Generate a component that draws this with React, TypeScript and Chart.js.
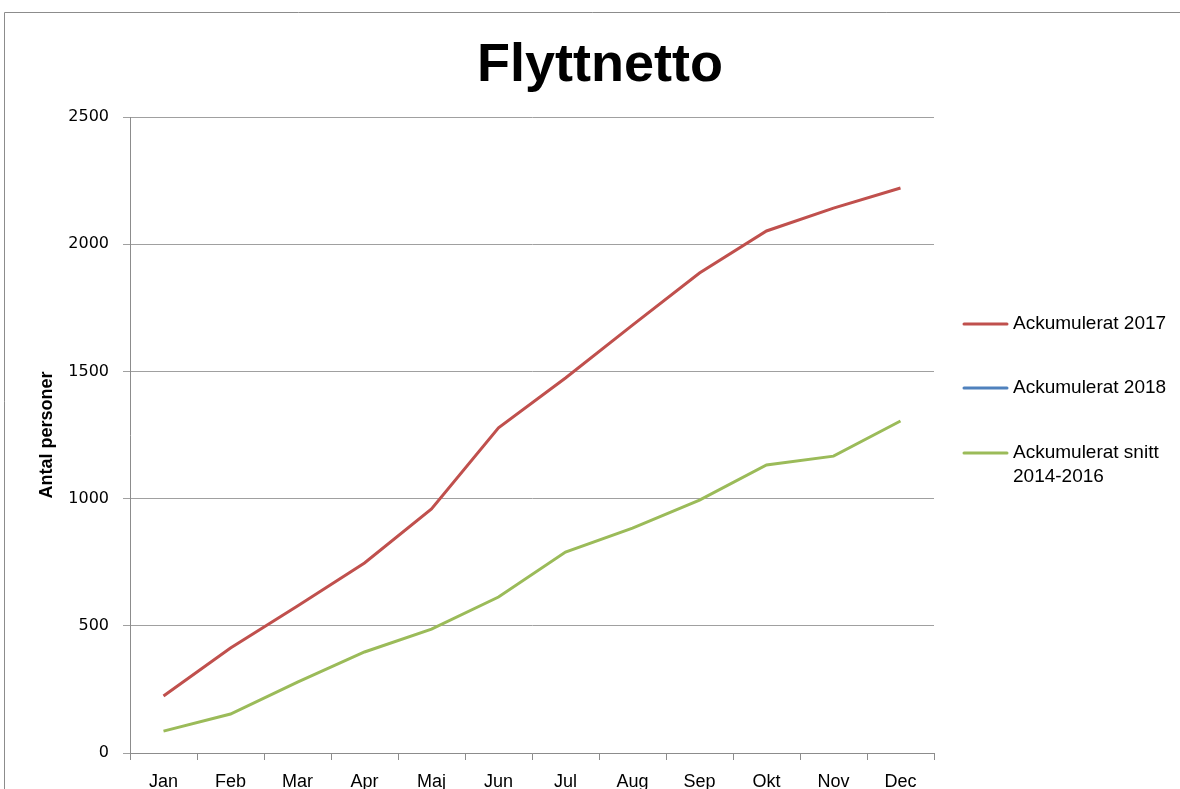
import React, { useEffect, useRef } from "react";
import { Chart, registerables } from "chart.js";

Chart.register(...registerables);

const months = ["Jan", "Feb", "Mar", "Apr", "Maj", "Jun", "Jul", "Aug", "Sep", "Okt", "Nov", "Dec"];
const ack2017 = [224, 413, 578, 747, 959, 1278, 1474, 1682, 1887, 2052, 2142, 2221];
const ack2018: (number | null)[] = [null, null, null, null, null, null, null, null, null, null, null, null];
const ackSnitt = [86, 153, 279, 397, 487, 613, 790, 884, 994, 1132, 1167, 1305];
const yTicks = [0, 500, 1000, 1500, 2000, 2500];

const titleText = "Flyttnetto";
const yTitle = "Antal personer";
const legendItems = [
  { lines: ["Ackumulerat 2017"], color: "#C0504D" },
  { lines: ["Ackumulerat 2018"], color: "#4F81BD" },
  { lines: ["Ackumulerat snitt", "2014-2016"], color: "#9BBB59" },
];

const decorPlugin = {
  id: "decor",
  beforeDraw(chart: any) {
    const ctx = chart.ctx;
    ctx.save();
    ctx.fillStyle = "#ffffff";
    ctx.fillRect(0, 0, chart.width, chart.height);
    ctx.strokeStyle = "#8c8c8c";
    ctx.lineWidth = 1;
    ctx.beginPath();
    ctx.moveTo(4.5, chart.height + 2);
    ctx.lineTo(4.5, 12.5);
    ctx.lineTo(chart.width + 2, 12.5);
    ctx.stroke();
    ctx.restore();
  },
  afterDraw(chart: any) {
    const ctx = chart.ctx;
    ctx.save();
    ctx.fillStyle = "#000000";
    ctx.font = "bold 54px 'Liberation Sans', sans-serif";
    ctx.textAlign = "center";
    ctx.textBaseline = "alphabetic";
    ctx.fillText(titleText, 600, 81);

    const ys = [324, 388, 453];
    ctx.font = "19px 'Liberation Sans', sans-serif";
    ctx.textAlign = "left";
    ctx.textBaseline = "middle";
    legendItems.forEach((it, i) => {
      const y = ys[i];
      ctx.strokeStyle = it.color;
      ctx.lineWidth = 3;
      ctx.lineCap = "round";
      ctx.beginPath();
      ctx.moveTo(964, y);
      ctx.lineTo(1007, y);
      ctx.stroke();
      ctx.fillStyle = "#000000";
      it.lines.forEach((ln, j) => {
        ctx.fillText(ln, 1013, y + j * 24);
      });
    });
    ctx.restore();
  },
};

export default function App() {
  const ref = useRef<HTMLCanvasElement | null>(null);
  useEffect(() => {
    if (!ref.current) return;
    const chart = new Chart(ref.current, {
      type: "line",
      data: {
        labels: months,
        datasets: [
          { label: "Ackumulerat 2017", data: ack2017, borderColor: "#C0504D", backgroundColor: "#C0504D", borderWidth: 3, pointRadius: 0, tension: 0 },
          { label: "Ackumulerat 2018", data: ack2018, borderColor: "#4F81BD", backgroundColor: "#4F81BD", borderWidth: 3, pointRadius: 0, tension: 0 },
          { label: "Ackumulerat snitt 2014-2016", data: ackSnitt, borderColor: "#9BBB59", backgroundColor: "#9BBB59", borderWidth: 3, pointRadius: 0, tension: 0 },
        ],
      },
      options: {
        animation: false,
        responsive: true,
        maintainAspectRatio: false,
        layout: { padding: { top: 117, right: 246, left: 0, bottom: 0 } },
        plugins: {
          legend: { display: false },
          title: { display: false },
          tooltip: { enabled: false },
        },
        scales: {
          x: {
            type: "category",
            offset: true,
            grid: { display: true, offset: true, drawOnChartArea: false, drawTicks: true, tickLength: 7, color: "#8c8c8c" },
            border: { display: true, color: "#8c8c8c" },
            ticks: { color: "#000", font: { family: "'Liberation Sans', sans-serif", size: 18 }, padding: 11, maxRotation: 0, autoSkip: false },
            afterFit: (s: any) => { s.height = 36; },
          },
          y: {
            min: 0,
            max: 2500,
            afterBuildTicks: (s: any) => { s.ticks = yTicks.map((v) => ({ value: v })); },
            grid: { color: "#a0a0a0", tickLength: 7, drawTicks: true },
            border: { display: true, color: "#8c8c8c" },
            ticks: { color: "#000", font: { family: "'DejaVu Sans', sans-serif", size: 16 }, padding: 14, callback: (v: any) => String(v) },
            title: { display: true, text: yTitle, color: "#000", font: { family: "'Liberation Sans', sans-serif", size: 18, weight: "bold" }, padding: { top: 36, bottom: 0 } },
            afterFit: (s: any) => { s.width = 130; },
          },
        },
      },
      plugins: [decorPlugin],
    });
    return () => chart.destroy();
  }, []);
  return (
    <div style={{ position: "absolute", left: 0, top: 0, width: 1180, height: 789 }}>
      <canvas ref={ref} />
    </div>
  );
}
